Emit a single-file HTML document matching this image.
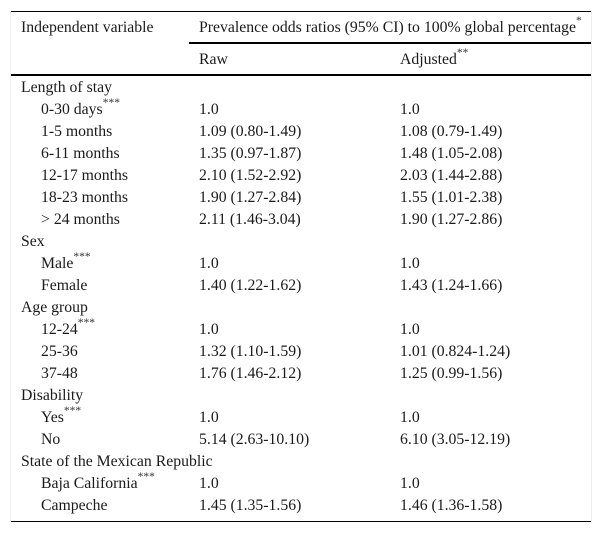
<!DOCTYPE html>
<html>
<head>
<meta charset="utf-8">
<style>
html,body{margin:0;padding:0;background:#fff}
#t{position:relative;width:602px;height:533px;overflow:hidden;font-family:"Liberation Serif",serif;font-size:15.75px;color:#1a1a1a}
#t span.c{position:absolute;line-height:16px;white-space:nowrap;margin-top:1px}
#t sup{font-size:11.5px;line-height:0;position:relative;top:-2px;vertical-align:super;color:#333}
.r{position:absolute;background:#000;height:2px}
.v{position:absolute;background:#efefef;width:1px;top:11px;height:510px}
</style>
</head>
<body>
<div id="t">
<div class="v" style="left:10px"></div>
<div class="v" style="left:591px"></div>
<div class="r" style="left:11px;width:580px;top:11px;height:1px"></div>
<div class="r" style="left:189px;width:402px;top:42px"></div>
<div class="r" style="left:11px;width:580px;top:74px"></div>
<div class="r" style="left:11px;width:580px;top:521px;height:1px"></div>

<span class="c" style="left:21px;top:19px">Independent variable</span>
<span class="c" style="left:199px;top:19px">Prevalence odds ratios (95% CI) to 100% global percentage<sup>*</sup></span>
<span class="c" style="left:199px;top:51px">Raw</span>
<span class="c" style="left:400px;top:51px">Adjusted<sup>**</sup></span>

<span class="c" style="left:21px;top:79px">Length of stay</span>

<span class="c" style="left:41px;top:101px">0-30 days<sup>***</sup></span>
<span class="c" style="left:199px;top:101px">1.0</span>
<span class="c" style="left:400px;top:101px">1.0</span>

<span class="c" style="left:41px;top:123px">1-5 months</span>
<span class="c" style="left:199px;top:123px">1.09 (0.80-1.49)</span>
<span class="c" style="left:400px;top:123px">1.08 (0.79-1.49)</span>

<span class="c" style="left:41px;top:145px">6-11 months</span>
<span class="c" style="left:199px;top:145px">1.35 (0.97-1.87)</span>
<span class="c" style="left:400px;top:145px">1.48 (1.05-2.08)</span>

<span class="c" style="left:41px;top:167px">12-17 months</span>
<span class="c" style="left:199px;top:167px">2.10 (1.52-2.92)</span>
<span class="c" style="left:400px;top:167px">2.03 (1.44-2.88)</span>

<span class="c" style="left:41px;top:189px">18-23 months</span>
<span class="c" style="left:199px;top:189px">1.90 (1.27-2.84)</span>
<span class="c" style="left:400px;top:189px">1.55 (1.01-2.38)</span>

<span class="c" style="left:41px;top:211px">&gt; 24 months</span>
<span class="c" style="left:199px;top:211px">2.11 (1.46-3.04)</span>
<span class="c" style="left:400px;top:211px">1.90 (1.27-2.86)</span>

<span class="c" style="left:21px;top:233px">Sex</span>

<span class="c" style="left:41px;top:255px">Male<sup>***</sup></span>
<span class="c" style="left:199px;top:255px">1.0</span>
<span class="c" style="left:400px;top:255px">1.0</span>

<span class="c" style="left:41px;top:277px">Female</span>
<span class="c" style="left:199px;top:277px">1.40 (1.22-1.62)</span>
<span class="c" style="left:400px;top:277px">1.43 (1.24-1.66)</span>

<span class="c" style="left:21px;top:299px">Age group</span>

<span class="c" style="left:41px;top:321px">12-24<sup>***</sup></span>
<span class="c" style="left:199px;top:321px">1.0</span>
<span class="c" style="left:400px;top:321px">1.0</span>

<span class="c" style="left:41px;top:343px">25-36</span>
<span class="c" style="left:199px;top:343px">1.32 (1.10-1.59)</span>
<span class="c" style="left:400px;top:343px">1.01 (0.824-1.24)</span>

<span class="c" style="left:41px;top:365px">37-48</span>
<span class="c" style="left:199px;top:365px">1.76 (1.46-2.12)</span>
<span class="c" style="left:400px;top:365px">1.25 (0.99-1.56)</span>

<span class="c" style="left:21px;top:387px">Disability</span>

<span class="c" style="left:41px;top:409px">Yes<sup>***</sup></span>
<span class="c" style="left:199px;top:409px">1.0</span>
<span class="c" style="left:400px;top:409px">1.0</span>

<span class="c" style="left:41px;top:431px">No</span>
<span class="c" style="left:199px;top:431px">5.14 (2.63-10.10)</span>
<span class="c" style="left:400px;top:431px">6.10 (3.05-12.19)</span>

<span class="c" style="left:21px;top:453px">State of the Mexican Republic</span>

<span class="c" style="left:41px;top:475px">Baja California<sup>***</sup></span>
<span class="c" style="left:199px;top:475px">1.0</span>
<span class="c" style="left:400px;top:475px">1.0</span>

<span class="c" style="left:41px;top:497px">Campeche</span>
<span class="c" style="left:199px;top:497px">1.45 (1.35-1.56)</span>
<span class="c" style="left:400px;top:497px">1.46 (1.36-1.58)</span>
</div>
</body>
</html>
